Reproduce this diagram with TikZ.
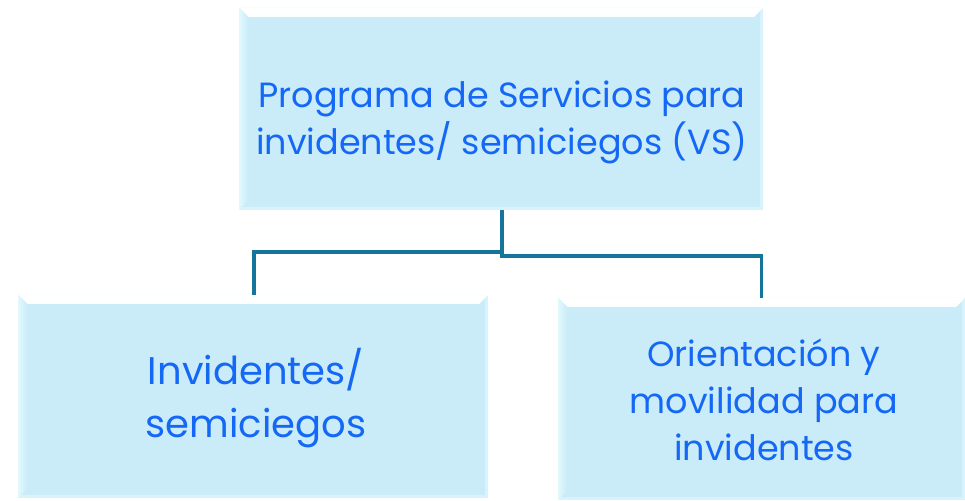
\documentclass[tikz,border=0pt]{standalone}
\usepackage{fontspec}
\setmainfont{Poppins}
\definecolor{boxfill}{HTML}{C9ECF8}
\definecolor{boxlight}{HTML}{E2F8FD}
\definecolor{txtblue}{HTML}{1568F6}
\definecolor{linecol}{HTML}{16759A}
\begin{document}
\begin{tikzpicture}[x=1pt,y=1pt,
  box/.style={fill=boxfill, draw=none, inner sep=0pt, anchor=south west,
    path picture={
      \fill[top color=white, bottom color=boxfill]
        (path picture bounding box.north west) -- (path picture bounding box.north east)
        -- ([shift={(-9,-9)}]path picture bounding box.north east)
        -- ([shift={(9,-9)}]path picture bounding box.north west) -- cycle;
      \fill[left color=boxlight, right color=boxfill]
        (path picture bounding box.north west) -- ([shift={(9,-9)}]path picture bounding box.north west)
        -- ([shift={(9,9)}]path picture bounding box.south west)
        -- (path picture bounding box.south west) -- cycle;
      \fill[boxlight, opacity=0.6]
        (path picture bounding box.south west) -- (path picture bounding box.south east)
        -- ([shift={(-3,3)}]path picture bounding box.south east)
        -- ([shift={(3,3)}]path picture bounding box.south west) -- cycle;
      \fill[boxlight, opacity=0.6]
        (path picture bounding box.north east) -- (path picture bounding box.south east)
        -- ([shift={(-3,3)}]path picture bounding box.south east)
        -- ([shift={(-3,-3)}]path picture bounding box.north east) -- cycle;
    }},
  lbl/.style={text=txtblue, align=center, font=\fontsize{35}{47}\selectfont, inner sep=0pt},
  lblbig/.style={lbl, font=\fontsize{38.5}{53}\selectfont},
  conn/.style={draw=linecol, line width=3.2pt}
]
\useasboundingbox (0,0) rectangle (965,500);
\node[box, minimum width=524, minimum height=202] (top) at (239,290) {};
\node[box, minimum width=470, minimum height=203] (left) at (18,2) {};
\node[box, minimum width=407, minimum height=202] (right) at (558,0) {};
\node[lbl] (toptxt) at (502,378) {Programa de Servicios para\\invidentes/ semiciegos (VS)};
\node[lblbig] (lefttxt) at (256,102) {Invidentes/\\semiciegos};
\node[lbl] (righttxt) at (764,100) {Orientación y\\movilidad para\\invidentes};
\coordinate (split) at (502,248);
\coordinate (splitr) at (502,244);
\draw[conn] (top.south -| split) -- (split) -- (split -| 254,0) -- (left.north -| 254,0);
\draw[conn] (split) -- (splitr) -- (splitr -| right.north) -- (right.north);
\end{tikzpicture}
\end{document}
